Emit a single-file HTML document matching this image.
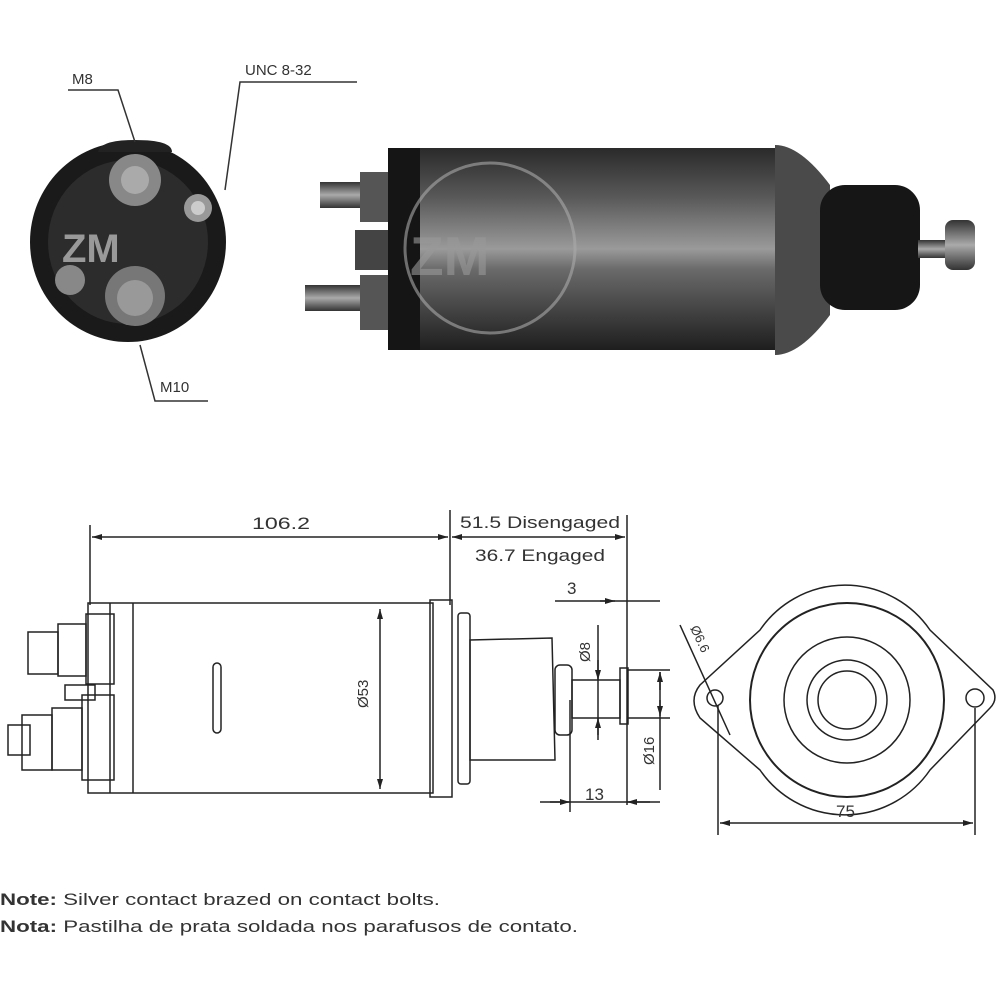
<!DOCTYPE html>
<html><head><meta charset="utf-8"><style>
html,body{margin:0;padding:0;background:#fff;width:1000px;height:1000px;overflow:hidden}
svg{display:block}
text{font-family:"Liberation Sans",sans-serif;fill:#333}
</style></head><body>
<svg width="1000" height="1000" viewBox="0 0 1000 1000" xmlns="http://www.w3.org/2000/svg">
<defs>
<linearGradient id="cyl" x1="0" y1="0" x2="0" y2="1">
<stop offset="0" stop-color="#2a2a2a"/><stop offset="0.25" stop-color="#5a5a5a"/>
<stop offset="0.5" stop-color="#9a9a9a"/><stop offset="0.6" stop-color="#6a6a6a"/>
<stop offset="1" stop-color="#1e1e1e"/></linearGradient>
<linearGradient id="stud" x1="0" y1="0" x2="0" y2="1">
<stop offset="0" stop-color="#333"/><stop offset="0.5" stop-color="#aaa"/><stop offset="1" stop-color="#333"/></linearGradient>
<marker id="ar" markerWidth="10" markerHeight="6" refX="10" refY="3" orient="auto-start-reverse" markerUnits="userSpaceOnUse"><path d="M0,0 L10,3 L0,6z" fill="#222"/></marker>
</defs>

<!-- end view photo -->
<ellipse cx="128" cy="242" rx="98" ry="100" fill="#1a1a1a"/>
<path d="M98,152 Q100,140 135,140 Q172,140 172,152z" fill="#222"/>
<ellipse cx="128" cy="242" rx="80" ry="82" fill="#2c2c2c"/>
<circle cx="135" cy="180" r="26" fill="#888"/><circle cx="135" cy="180" r="14" fill="#aaa"/>
<circle cx="198" cy="208" r="14" fill="#999"/><circle cx="198" cy="208" r="7" fill="#ccc"/>
<circle cx="70" cy="280" r="15" fill="#888"/>
<circle cx="135" cy="296" r="30" fill="#777"/><circle cx="135" cy="298" r="18" fill="#999"/>
<text x="62" y="262" font-size="40" font-weight="bold" style="fill:#999">ZM</text>

<text x="72" y="84" font-size="15">M8</text>
<polyline points="68,90 118,90 135,142" fill="none" stroke="#333" stroke-width="1.5"/>
<text x="245" y="75" font-size="15">UNC 8-32</text>
<polyline points="357,82 240,82 225,190" fill="none" stroke="#333" stroke-width="1.5"/>
<text x="160" y="392" font-size="15">M10</text>
<polyline points="208,401 155,401 140,345" fill="none" stroke="#333" stroke-width="1.5"/>

<!-- side photo -->
<rect x="320" y="182" width="48" height="26" fill="url(#stud)"/>
<rect x="305" y="285" width="62" height="26" fill="url(#stud)"/>
<rect x="360" y="172" width="35" height="50" fill="#555"/>
<rect x="355" y="230" width="35" height="40" fill="#444"/>
<rect x="360" y="275" width="35" height="55" fill="#555"/>
<rect x="388" y="148" width="40" height="202" fill="#151515"/>
<rect x="420" y="148" width="360" height="202" fill="url(#cyl)"/>
<path d="M775,145 Q800,145 830,185 L830,315 Q800,355 775,355z" fill="#4a4a4a"/>
<rect x="820" y="185" width="100" height="125" rx="25" fill="#161616"/>
<rect x="918" y="240" width="30" height="18" fill="url(#stud)"/>
<rect x="945" y="220" width="30" height="50" rx="8" fill="url(#stud)"/>
<circle cx="490" cy="248" r="85" fill="none" stroke="#aaa" stroke-width="3" opacity="0.6"/>
<text x="410" y="275" font-size="55" font-weight="bold" opacity="0.6" style="fill:#999">ZM</text>

<!-- technical drawing -->
<g fill="none" stroke="#222" stroke-width="1.5">
<line x1="90" y1="525" x2="90" y2="605"/>
<line x1="450" y1="510" x2="450" y2="605"/>
<line x1="627" y1="515" x2="627" y2="805"/>
<line x1="92" y1="537" x2="448" y2="537" marker-start="url(#ar)" marker-end="url(#ar)"/>
<line x1="452" y1="537" x2="625" y2="537" marker-start="url(#ar)" marker-end="url(#ar)"/>
<rect x="88" y="603" width="345" height="190"/>
<line x1="110" y1="603" x2="110" y2="793"/>
<line x1="133" y1="603" x2="133" y2="793"/>
<rect x="213" y="663" width="8" height="70" rx="4"/>
<rect x="430" y="600" width="22" height="197"/>
<rect x="458" y="613" width="12" height="171" rx="3"/>
<path d="M470,640 L552,638 L555,760 L470,760z"/>
<rect x="555" y="665" width="17" height="70" rx="5"/>
<rect x="572" y="680" width="48" height="38"/>
<rect x="620" y="668" width="8" height="56"/>
<rect x="28" y="632" width="30" height="42"/><rect x="58" y="624" width="28" height="52"/>
<rect x="86" y="614" width="28" height="70"/>
<rect x="8" y="725" width="22" height="30"/><rect x="22" y="715" width="30" height="55"/><rect x="52" y="708" width="30" height="62"/>
<rect x="82" y="695" width="32" height="85"/>
<rect x="65" y="685" width="30" height="15"/>
<line x1="380" y1="609" x2="380" y2="789" marker-start="url(#ar)" marker-end="url(#ar)"/>
<line x1="555" y1="601" x2="660" y2="601"/>
<line x1="600" y1="601" x2="615" y2="601" marker-end="url(#ar)"/>
<line x1="598" y1="625" x2="598" y2="735"/>
<line x1="598" y1="660" x2="598" y2="680" marker-end="url(#ar)"/>
<line x1="598" y1="740" x2="598" y2="718" marker-end="url(#ar)"/>
<line x1="628" y1="670" x2="670" y2="670"/><line x1="628" y1="718" x2="670" y2="718"/>
<line x1="660" y1="672" x2="660" y2="790"/>
<line x1="660" y1="690" x2="660" y2="672" marker-end="url(#ar)"/>
<line x1="660" y1="700" x2="660" y2="716" marker-end="url(#ar)"/>
<line x1="570" y1="700" x2="570" y2="812"/>
<line x1="540" y1="802" x2="660" y2="802"/>
<line x1="550" y1="802" x2="570" y2="802" marker-end="url(#ar)"/>
<line x1="650" y1="802" x2="627" y2="802" marker-end="url(#ar)"/>
<path d="M760,630 A103,103 0 0 1 930,630 L993,690 Q998,700 990,708 L930,770 A103,103 0 0 1 760,770 L700,718 Q688,700 700,685z"/>
<circle cx="847" cy="700" r="97" stroke-width="2"/>
<circle cx="847" cy="700" r="63"/>
<circle cx="847" cy="700" r="40"/>
<circle cx="847" cy="700" r="29"/>
<circle cx="715" cy="698" r="8"/>
<circle cx="975" cy="698" r="9"/>
<line x1="680" y1="625" x2="730" y2="735"/>
<line x1="718" y1="705" x2="718" y2="835"/>
<line x1="975" y1="708" x2="975" y2="835"/>
<line x1="720" y1="823" x2="973" y2="823" marker-start="url(#ar)" marker-end="url(#ar)"/>
</g>
<text x="252" y="529" font-size="17" textLength="58" lengthAdjust="spacingAndGlyphs">106.2</text>
<text x="460" y="528" font-size="17" textLength="160" lengthAdjust="spacingAndGlyphs">51.5 Disengaged</text>
<text x="475" y="561" font-size="17" textLength="130" lengthAdjust="spacingAndGlyphs">36.7 Engaged</text>
<text x="567" y="594" font-size="17">3</text>
<text x="585" y="800" font-size="17">13</text>
<text x="836" y="817" font-size="17">75</text>
<text font-size="15" transform="translate(368,708) rotate(-90)">Ø53</text>
<text font-size="15" transform="translate(590,662) rotate(-90)">Ø8</text>
<text font-size="15" transform="translate(654,765) rotate(-90)">Ø16</text>
<text font-size="13" transform="translate(690,628) rotate(65)">Ø6.6</text>
<text x="0" y="905" font-size="17" textLength="440" lengthAdjust="spacingAndGlyphs"><tspan font-weight="bold">Note:</tspan> Silver contact brazed on contact bolts.</text>
<text x="0" y="932" font-size="17" textLength="578" lengthAdjust="spacingAndGlyphs"><tspan font-weight="bold">Nota:</tspan> Pastilha de prata soldada nos parafusos de contato.</text>
</svg>
</body></html>
